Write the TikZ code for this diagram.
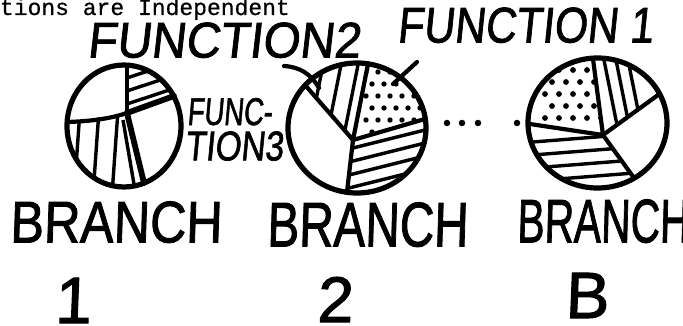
\documentclass[tikz,border=0pt]{standalone}
\usepackage{fontspec}
\usepackage{graphicx}
\usetikzlibrary{calc}
\newfontfamily\hand[FakeSlant=0.12,FakeBold=1.6]{Liberation Sans}
\newfontfamily\handup[FakeSlant=0.04,FakeBold=1.6]{Liberation Sans}
\setmonofont[FakeBold=0.6]{Liberation Mono}
\tikzset{
  rim/.style={line width=5.2pt},
  divline/.style={line width=4.2pt, line cap=round},
  thickdiv/.style={line width=5.8pt, line cap=round},
  hatch/.style={line width=3.4pt},
  lbl/.style={inner sep=0pt, outer sep=0pt},
  dotmark/.style={circle, fill=black, draw=none, inner sep=0pt, minimum size=6.5pt},
}
\begin{document}
\begin{tikzpicture}[x=1pt,y=-1pt]
\useasboundingbox (0,0) rectangle (683,326);

% heading, cut at the top edge as in the reference
\node[lbl, anchor=base west] (head) at (0,15) {\fontsize{23}{23}\selectfont\ttfamily tions are Independent};

% ---------------- pie 1
\coordinate (c1) at (124,126);
\coordinate (d1) at (127,113);
\coordinate (t1) at (127,66);
\coordinate (l1) at (68,122);
\coordinate (ur1) at (174,96);
\coordinate (b1) at (144,183);
\begin{scope}
  \clip (c1) ellipse [x radius=57pt, y radius=61pt];
  \begin{scope}
    \clip (d1) -- ($(d1)!5!(t1)$) -- ($(d1)!5!(ur1)$) -- cycle;
    \foreach \y in {78,91,104} \draw[hatch] (110,\y+5.6) -- (190,\y-20.8);
  \end{scope}
  \begin{scope}
    \clip (d1) -- ($(d1)!5!(b1)$) -- ($(d1)!5!(l1)$) -- cycle;
    \foreach \x in {80,99,118} \draw[hatch] (\x,110) -- (\x-6,195);
    \draw[hatch] (123,120) -- (135,190);
  \end{scope}
\end{scope}
\draw[divline] (t1) -- (d1);
\draw[divline] (l1) .. controls (95,121) and (112,118) .. (d1);
\draw[thickdiv] (d1) -- (ur1);
\draw[thickdiv] (d1) -- (b1);
\draw[rim] (c1) ellipse [x radius=57pt, y radius=61pt];

% ---------------- pie 2
\coordinate (c2) at (357,128);
\coordinate (d2) at (353,140);
\coordinate (ul2) at (305,85);
\coordinate (t2) at (368,64);
\coordinate (r2) at (425,119);
\coordinate (b2) at (347,192);
\begin{scope}
  \clip (c2) ellipse [x radius=69pt, y radius=65pt];
  \begin{scope}
    \clip (d2) -- ($(d2)!5!(ul2)$) -- ($(d2)!5!(t2)$) -- cycle;
    \foreach \x in {325,343,360} \draw[hatch] (\x,55) -- (\x-22,165);
  \end{scope}
  \begin{scope}
    \clip (d2) -- ($(d2)!5!(t2)$) -- ($(d2)!5!(r2)$) -- cycle;
    \foreach \row/\off in {0/0,1/6,2/0,3/6,4/0,5/6} {
      \foreach \col in {0,...,5} {
        \fill ({366+\col*12+\off},{72+\row*12}) circle (2.7pt);
      }
    }
  \end{scope}
  \begin{scope}
    \clip (d2) -- ($(d2)!5!(r2)$) -- ($(d2)!5!(b2)$) -- cycle;
    \foreach \y in {148,161,174,187} \draw[hatch] (340,\y+3.25) -- (440,\y-21.75);
  \end{scope}
\end{scope}
\draw[divline] (ul2) -- (d2) -- (t2);
\draw[divline] (d2) -- (r2);
\draw[divline] (d2) -- (b2);
\draw[rim] (c2) ellipse [x radius=69pt, y radius=65pt];

% pointers
\coordinate (p2a) at (284,66);
\coordinate (p2b) at (319,88);
\draw[divline] (p2a) .. controls (300,67) and (311,74) .. (p2b);
\coordinate (p1a) at (417,62);
\coordinate (p1b) at (393,84);
\draw[divline] (p1a) -- (p1b);

% ellipsis dots
\node[dotmark] (e1) at (447,123) {};
\node[dotmark] (e2) at (462,123) {};
\node[dotmark] (e3) at (478,123) {};
\node[dotmark] (e4) at (517,123) {};

% ---------------- pie 3
\coordinate (c3) at (597.5,123);
\coordinate (d3) at (603,135);
\coordinate (l3) at (530,124);
\coordinate (t3) at (593,59);
\coordinate (ur3) at (658,95);
\coordinate (dr3) at (634,178);
\begin{scope}
  \clip (c3) ellipse [x radius=69.5pt, y radius=65pt];
  \begin{scope}
    \clip (d3) -- ($(d3)!5!(l3)$) -- ($(d3)!5!(t3)$) -- cycle;
    \foreach \row/\off in {0/0,1/7,2/0,3/7,4/0} {
      \foreach \col in {0,...,4} {
        \fill ({545+\col*14+\off},{70+\row*12}) circle (2.9pt);
      }
    }
  \end{scope}
  \begin{scope}
    \clip (d3) -- ($(d3)!5!(t3)$) -- ($(d3)!5!(ur3)$) -- cycle;
    \foreach \x in {603,615,627} \draw[hatch] (\x,55) -- (\x+16,135);
  \end{scope}
  \begin{scope}
    \clip (d3) -- ($(d3)!5!(dr3)$) -- ($(d3)!5!(l3)$) -- cycle;
    \foreach \y in {140,153,166,179} \draw[hatch] (520,\y+3) -- (660,\y-8);
  \end{scope}
\end{scope}
\draw[divline] (l3) -- (d3) -- (t3);
\draw[divline] (d3) -- (ur3);
\draw[divline] (d3) -- (dr3);
\draw[rim] (c3) ellipse [x radius=69.5pt, y radius=65pt];

% ---------------- labels
\node[lbl, anchor=south west] (f2) at (87,58) {\resizebox{273pt}{35pt}{\hand FUNCTION2}};
\node[lbl, anchor=south west] (f1) at (397,43) {\resizebox{256pt}{35pt}{\hand FUNCTION 1}};
\node[lbl, anchor=north west, align=left] (f3) at (185,98)
  {\hspace*{2pt}\resizebox{85pt}{27pt}{\hand FUNC-}\\[5pt]\resizebox{98pt}{29pt}{\hand TION3}};

\node[lbl, anchor=south west] (br1) at (10,243) {\resizebox{212pt}{41pt}{\handup BRANCH}};
\node[lbl, anchor=south west] (br2) at (267,247) {\resizebox{201pt}{44pt}{\handup BRANCH}};
\node[lbl, anchor=south west] (br3) at (517,243) {\resizebox{172pt}{43pt}{\handup BRANCH}};

\node[lbl, anchor=south] (n1) at (73,323) {\resizebox{!}{45pt}{\handup 1}};
\node[lbl, anchor=south] (n2) at (335,322) {\resizebox{!}{45pt}{\handup 2}};
\node[lbl, anchor=south] (n3) at (587,318) {\resizebox{!}{45pt}{\handup B}};
\end{tikzpicture}
\end{document}
